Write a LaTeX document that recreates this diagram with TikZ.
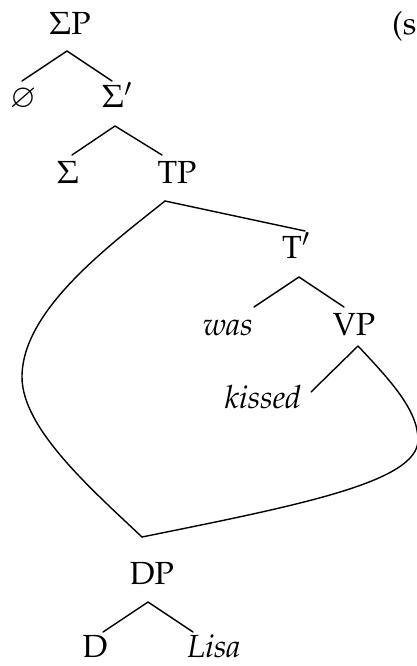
\documentclass[tikz,border=0pt]{standalone}
\usepackage[T1]{fontenc}
\usepackage{mathpazo}
\usepackage{amssymb}
\usetikzlibrary{calc}
\begin{document}
\begin{tikzpicture}[x=1pt,y=-1pt,
  lab/.style={anchor=base,inner sep=0pt,font=\fontsize{32}{38}\selectfont},
  edge/.style={line width=1.4pt,line cap=round,line join=round}]
\useasboundingbox (0,0) rectangle (416,666);
% nodes
\node[lab] (SP) at (70,35) {$\Sigma$P};
\node[lab] (empty) at (23,107) {$\varnothing$};
\node[lab] (Sbar) at (117,108) {$\Sigma'$};
\node[lab] (S) at (68,183) {$\Sigma$};
\node[lab] (TP) at (177,183) {TP};
\node[lab] (Tbar) at (296,258) {T$'$};
\node[lab] (was) at (228,335) {\itshape was};
\node[lab] (VP) at (354,335) {VP};
\node[lab] (kissed) at (263,408) {\itshape kissed};
\node[lab] (DP) at (152,584) {DP};
\node[lab] (D) at (95,657) {D};
\node[lab] (Lisa) at (214,657) {\itshape Lisa};
\node[lab,anchor=base west] (ex) at (392,35) {(s};
% branches
\draw[edge] ($(empty.base)+(-1,-26)$) -- ($(SP.base)+(-3,16)$) -- ($(Sbar.base)+(-5,-27)$);
\draw[edge] ($(S.base)+(4,-28)$) -- ($(Sbar.base)+(-2,18)$) -- ($(TP.base)+(-15,-28)$);
\draw[edge] ($(TP.base)+(-12,18)$) -- ($(Tbar.base)+(9,-27)$);
\draw[edge] ($(was.base)+(26,-28)$) -- ($(Tbar.base)+(3,19)$) -- ($(VP.base)+(-10,-28)$);
\draw[edge] ($(kissed.base)+(48,-16)$) -- ($(VP.base)+(4,11)$);
\draw[edge] ($(D.base)+(8,-25)$) -- ($(DP.base)+(-4,18)$) -- ($(Lisa.base)+(-21,-25)$);
% multidominance curves
\draw[edge] ($(TP.base)+(-12,18)$) .. controls (110,245) and (22,310) .. (22,377)
  .. controls (22,428) and (90,488) .. ($(DP.base)+(-10,-47)$);
\draw[edge] ($(VP.base)+(4,11)$) .. controls (390,380) and (418,410) .. (418,440)
  .. controls (418,482) and (300,505) .. ($(DP.base)+(-10,-47)$);
\end{tikzpicture}
\end{document}
